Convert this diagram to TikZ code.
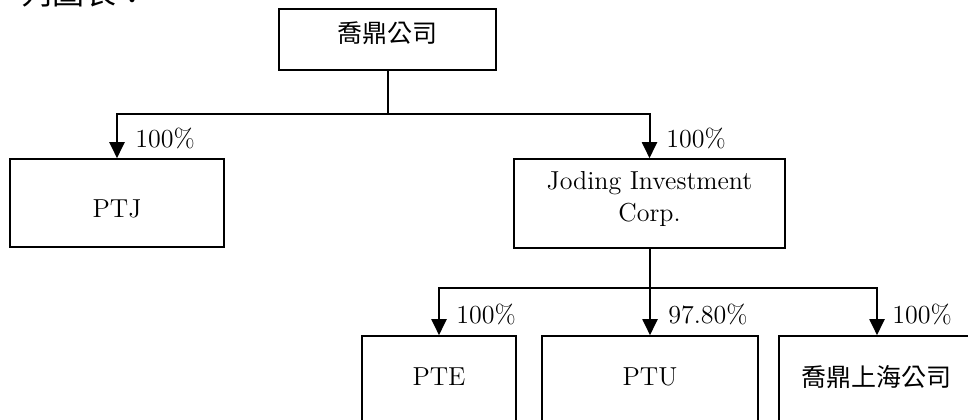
\documentclass[tikz,border=0pt]{standalone}
\usepackage{fontspec}
\newfontfamily\cjk{Noto Sans CJK TC}
\usetikzlibrary{arrows.meta}
\begin{document}
\begin{tikzpicture}[x=0.5pt,y=-0.5pt,
  box/.style={draw,line width=0.8pt,rectangle,inner sep=0pt},
  txt/.style={inner sep=0pt,font=\fontsize{13}{16}\selectfont,align=center},
  ctxt/.style={inner sep=0pt,font=\cjk\fontsize{12.5}{15}\selectfont},
  pct/.style={inner sep=0pt,anchor=west,font=\fontsize{13}{16}\selectfont},
  line/.style={line width=1pt},
  arr/.style={line width=1pt,-{Triangle[length=8pt,width=7.5pt]}}]
\useasboundingbox (0,0) rectangle (968,419);
% partially visible heading
\node[inner sep=0pt,anchor=base west,font=\cjk\fontsize{16}{18}\selectfont] (head) at (20,4) {列圖表：};
% boxes
\node[box,minimum width=108.5pt,minimum height=30.5pt] (top) at (387.5,39.5) {};
\node[ctxt] (topt) at (387.5,33) {喬鼎公司};
\node[box,minimum width=107pt,minimum height=44pt] (ptj) at (117,203) {};
\node[txt] (ptjt) at (117,209) {PTJ};
\node[box,minimum width=135.5pt,minimum height=44.5pt] (jod) at (649.5,203.5) {};
\node[txt] (jodt) at (649.5,199) {Joding Investment\\Corp.};
\node[box,minimum width=77pt,minimum height=44pt] (pte) at (439,380) {};
\node[txt] (ptet) at (439,377) {PTE};
\node[box,minimum width=108pt,minimum height=44pt] (ptu) at (650,380) {};
\node[txt] (ptut) at (650,377) {PTU};
\node[box,minimum width=98pt,minimum height=44pt] (sh) at (877,380) {};
\node[ctxt] (sht) at (876,377) {喬鼎上海公司};
% junctions
\coordinate (j1) at (387.5,113.5);
\coordinate (j2) at (650,288);
% connectors
\draw[line] (top.south) -- (j1);
\draw[arr] (j1) -| (ptj.north);
\draw[arr] (j1) -| (jod.north);
\draw[line] (jod.south -| j2) -- (j2);
\draw[arr] (j2) -| (pte.north);
\draw[arr] (j2) -- (j2 |- ptu.north);
\draw[arr] (j2) -| (sh.north);
% percentages
\node[pct] (p1) at (135,138) {100\%};
\node[pct] (p2) at (666,138) {100\%};
\node[pct] (p3) at (456,314) {100\%};
\node[pct] (p4) at (668,314) {97.80\%};
\node[pct] (p5) at (892,314) {100\%};
\end{tikzpicture}
\end{document}
